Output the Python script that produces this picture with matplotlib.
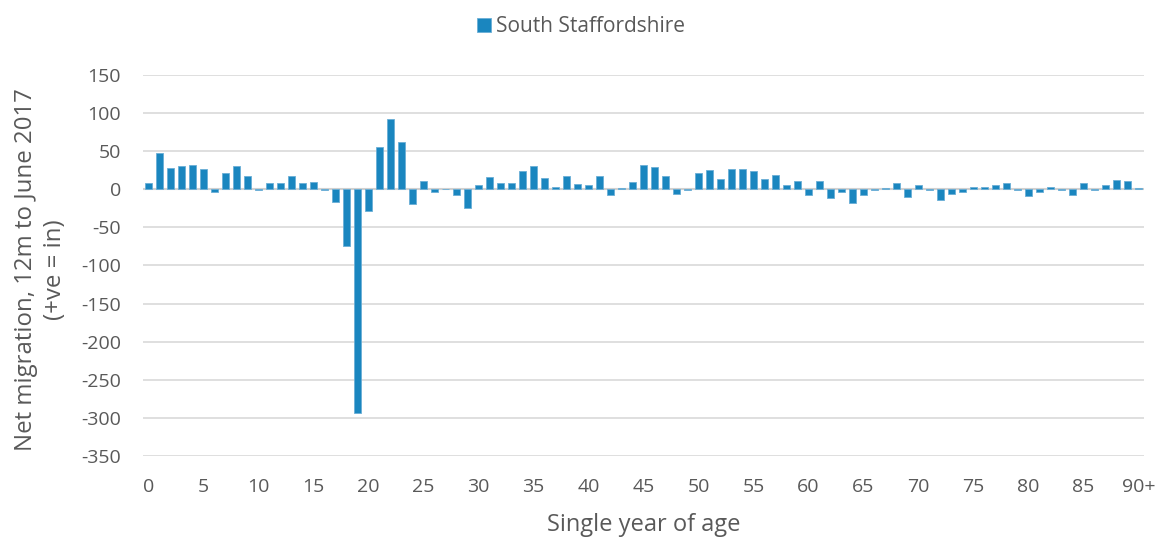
import numpy as np
import matplotlib.pyplot as plt

plt.rcParams['font.family'] = ['Open Sans', 'DejaVu Sans']
plt.rcParams['axes.unicode_minus'] = False

# ---------------- DATA ---------------- #
ages = list(range(91))
age_labels = [str(a) if a < 90 else "90+" for a in range(0, 91, 5)]
net_migration = [
    8, 48, 28, 30, 32, 26, -4, 21, 30, 18,
    -1, 8, 8, 18, 8, 10, -1, -17, -74, -293,
    -28, 55, 92, 62, -19, 11, -3, 0, -8, -25,
    6, 16, 8, 8, 24, 31, 15, 3, 18, 7,
    6, 18, -8, 2, 10, 32, 29, 18, -6, -1,
    21, 25, 13, 26, 26, 24, 14, 19, 5, 11,
    -7, 11, -11, -3, -18, -8, -1, 2, 8, -10,
    5, -1, -14, -6, -3, 3, 3, 5, 8, -1,
    -9, -4, 3, -1, -8, 8, -1, 5, 12, 11,
    2,
]

bar_color = "#1a86bf"
text_color = "#595959"

# ---------------- PLOT ---------------- #
fig = plt.figure(figsize=(11.62, 5.38), dpi=100)
ax = fig.add_axes([143 / 1162, 1 - 456 / 538, 1001 / 1162, 381 / 538])

ax.bar(ages, net_migration, width=0.64, color=bar_color,
       edgecolor="#6aaed6", linewidth=0.6, label="South Staffordshire", zorder=3)

ax.set_xlim(-0.5, 90.5)
ax.set_ylim(-350, 150)
ax.set_yticks(np.arange(-350, 151, 50))
ax.set_xticks(list(range(0, 91, 5)))
ax.set_xticklabels(age_labels)

ax.yaxis.grid(True, color="#d9d9d9", linewidth=1.2, zorder=0)
ax.axhline(0, color="#d0d0d0", linewidth=1.5, zorder=2)
for s in ax.spines.values():
    s.set_visible(False)
ax.tick_params(length=0, labelsize=14, colors=text_color)
ax.tick_params(axis="y", pad=16)
ax.tick_params(axis="x", pad=16)

ax.set_xlabel("Single year of age", fontsize=17, color=text_color)
ax.xaxis.set_label_coords(0.5, -0.15)
ax.set_ylabel("Net migration, 12m to June 2017\n(+ve = in)", fontsize=17.3,
              color=text_color, linespacing=1.25)
ax.yaxis.set_label_coords(-0.076, 0.49)

fig.legend(loc="upper center", bbox_to_anchor=(0.5, 1.005), frameon=False,
           fontsize=15, labelcolor=text_color, handlelength=0.65,
           handleheight=0.65, handletextpad=0.25)

plt.savefig("out.png", dpi=100)
